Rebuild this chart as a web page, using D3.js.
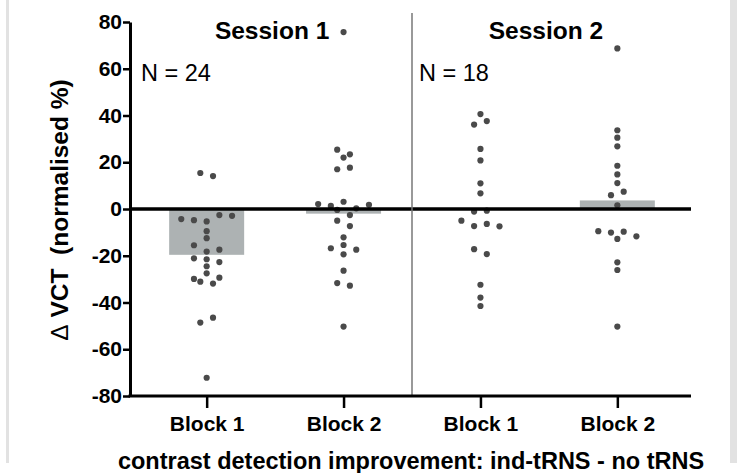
<!DOCTYPE html>
<html>
<head>
<meta charset="utf-8">
<script src="https://cdn.jsdelivr.net/npm/d3@7"></script>
<style>
  html, body { margin: 0; padding: 0; background: #fff; }
  svg { display: block; font-family: "Liberation Sans", Arial, Helvetica, sans-serif; }
</style>
</head>
<body>
<div id="chart"></div>
<script>
// ---- data ----
const groupKeys   = ["s1b1", "s1b2", "s2b1", "s2b2"];
const blockLabels = ["Block 1", "Block 2", "Block 1", "Block 2"];
const sessionNames = ["Session 1", "Session 2"];
const sessionN     = [24, 18];
const yTicks = [-80, -60, -40, -20, 0, 20, 40, 60, 80];

const s1b1 = [15.4, 14.1, -4.3, -4.8, -5.3, -2.6, -2.9, -9.5, -12.5, -15.5, -18.2, -17.4,
              -21.1, -21.5, -22.7, -24.5, -29.9, -27.5, -29.4, -31.1, -31.9, -48.6, -46.5, -72.2];
const s1b2 = [75.7, 25.4, 23.4, 22.0, 17.0, 17.7, 2.1, 1.3, 3.1, 0.3, 1.8, -0.4, -5.0, -2.6,
              -7.3, -12.1, -16.8, -15.4, -17.4, -19.4, -26.4, -31.7, -32.8, -50.3];
const s2b1 = [40.6, 36.1, 37.6, 25.7, 20.8, 11.0, 6.7, -1.1, -0.7, -5.0, -7.3, -6.4, -7.4,
              -17.2, -19.3, -32.4, -37.9, -41.5];
const s2b2 = [68.7, 33.7, 30.5, 26.8, 18.5, 14.8, 11.1, 5.9, 7.4, 1.6, -9.5, -10.1, -9.7,
              -11.7, -12.8, -22.8, -26.1, -50.3];
const groupValues = [s1b1, s1b2, s2b1, s2b2];

// ---- layout ----
const W = 737, H = 473;
const FONT_TICK = 21, FONT_BLOCK = 21, FONT_SESSION = 24.5, FONT_N = 23.5, FONT_YTITLE = 24.5, FONT_XTITLE = 23.5;

const svg = d3.select("#chart").append("svg").attr("width", W).attr("height", H);
svg.append("rect").attr("width", W).attr("height", H).attr("fill", "#fff");

// faint panel borders
svg.append("rect").attr("x", 6).attr("y", 0).attr("width", 3).attr("height", 463).attr("fill", "#e2e2e2");
svg.append("rect").attr("x", 730).attr("y", 0).attr("width", 7).attr("height", 463).attr("fill", "#e2e2e2");

const x = d3.scalePoint().domain(groupKeys).range([130, 694]).padding(0.56);
const y = d3.scaleLinear().domain([-80, 80]).range([396, 22]);
const axisRight = 691;
const barW = 75;
const dotStep = 12.7, rowThresh = 6.8, dotR = 3.1;

// beeswarm: group sorted values into rows, centre each row
function swarm(values) {
  const idx = values.map((v, i) => i).sort((a, b) => (values[b] - values[a]) || (a - b));
  const rows = [];
  let cur = null;
  idx.forEach(i => {
    const py = y(values[i]);
    if (cur && py - cur.top < rowThresh) cur.items.push(i);
    else { cur = { top: py, items: [i] }; rows.push(cur); }
  });
  const off = new Array(values.length);
  rows.forEach(r => {
    r.items.sort((a, b) => a - b);
    const n = r.items.length;
    r.items.forEach((i, k) => { off[i] = (k - (n - 1) / 2) * dotStep; });
  });
  return off;
}

// bars (means)
const means = groupValues.map(v => d3.mean(v));
svg.append("g").selectAll("rect").data(groupKeys).join("rect")
  .attr("x", d => x(d) - barW / 2)
  .attr("width", barW)
  .attr("y", (d, i) => Math.min(y(means[i]), y(0)))
  .attr("height", (d, i) => Math.abs(y(means[i]) - y(0)))
  .attr("fill", "#adb2b3");

// dots
const dots = [];
groupValues.forEach((vals, gi) => {
  const off = swarm(vals);
  vals.forEach((v, i) => dots.push({ g: groupKeys[gi], v, off: off[i] }));
});
svg.append("g").selectAll("circle").data(dots).join("circle")
  .attr("cx", d => x(d.g) + d.off)
  .attr("cy", d => y(d.v))
  .attr("r", dotR)
  .attr("fill", "#4a4a4a");

// zero line
svg.append("line")
  .attr("x1", x.range()[0]).attr("x2", axisRight)
  .attr("y1", y(0)).attr("y2", y(0))
  .attr("stroke", "#000").attr("stroke-width", 3.5);

// session separator
const sepX = (x("s1b2") + x("s2b1")) / 2;
svg.append("line")
  .attr("x1", sepX).attr("x2", sepX)
  .attr("y1", 13).attr("y2", y(-80))
  .attr("stroke", "#777").attr("stroke-width", 1.5);

// y axis
const yAxis = svg.append("g").attr("transform", `translate(${x.range()[0]},0)`)
  .call(d3.axisLeft(y).tickValues(yTicks).tickSize(7).tickSizeOuter(0).tickPadding(1)
    .tickFormat(d => String(d)));
yAxis.select(".domain").attr("stroke", "#000").attr("stroke-width", 3);
yAxis.selectAll(".tick line").attr("stroke", "#000").attr("stroke-width", 2.5);
yAxis.selectAll(".tick text")
  .attr("font-size", FONT_TICK).attr("font-weight", "bold").attr("fill", "#000")
  .attr("font-family", "Liberation Sans, Arial, sans-serif");

// x axis
const xAxis = svg.append("g").attr("transform", `translate(0,${y(-80)})`)
  .call(d3.axisBottom(x).tickSize(12).tickSizeOuter(0).tickFormat((d, i) => blockLabels[i]));
xAxis.select(".domain").remove();
xAxis.append("line").attr("x1", x.range()[0] - 1.5).attr("x2", axisRight)
  .attr("y1", 0).attr("y2", 0).attr("stroke", "#000").attr("stroke-width", 3);
xAxis.selectAll(".tick line").attr("stroke", "#000").attr("stroke-width", 2.5);
xAxis.selectAll(".tick text")
  .attr("y", 35).attr("dy", 0)
  .attr("font-size", FONT_BLOCK).attr("font-weight", "bold").attr("fill", "#000")
  .attr("font-family", "Liberation Sans, Arial, sans-serif");

// session titles
const sessionCentres = [(x("s1b1") + x("s1b2")) / 2 - 3, (x("s2b1") + x("s2b2")) / 2 - 3];
svg.append("g").selectAll("text").data(sessionNames).join("text")
  .attr("x", (d, i) => sessionCentres[i])
  .attr("y", 39)
  .attr("text-anchor", "middle")
  .attr("font-size", FONT_SESSION).attr("font-weight", "bold")
  .text(d => d);

// N labels
const nX = [x.range()[0] + 11, sepX + 7];
svg.append("g").selectAll("text").data(sessionN).join("text")
  .attr("x", (d, i) => nX[i])
  .attr("y", 81)
  .attr("font-size", FONT_N)
  .text(d => "N = " + d);

// y axis title
const yt = svg.append("text")
  .attr("transform", "translate(68,210) rotate(-90)")
  .attr("text-anchor", "middle")
  .attr("font-size", FONT_YTITLE).attr("font-weight", "bold")
  .style("white-space", "pre");
yt.append("tspan").attr("font-weight", "normal").text("\u0394");
yt.append("tspan").text(" VCT  (normalised %)");

// x axis title
svg.append("text")
  .attr("x", 411).attr("y", 469)
  .attr("text-anchor", "middle")
  .attr("font-size", FONT_XTITLE).attr("font-weight", "bold")
  .text("contrast detection improvement: ind-tRNS - no tRNS");
</script>
</body>
</html>
